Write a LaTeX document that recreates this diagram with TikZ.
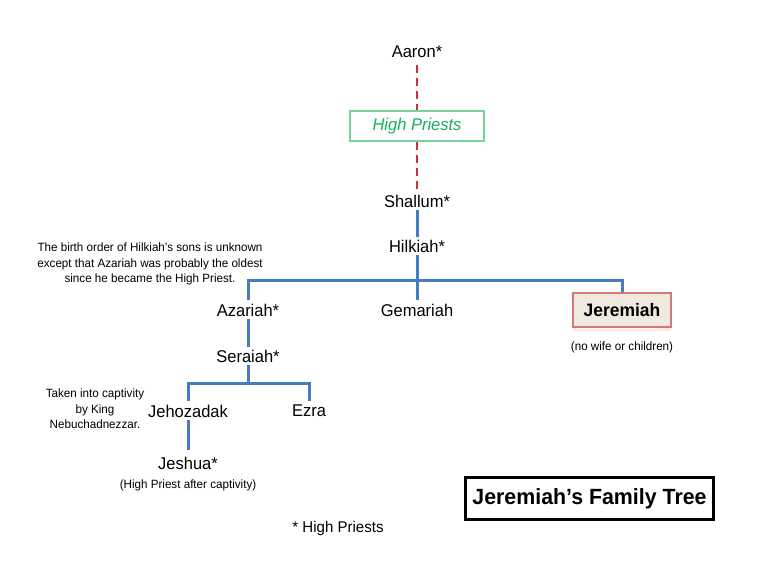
\documentclass[tikz,border=0pt]{standalone}
\usepackage{fontspec}
\setmainfont{Liberation Sans}[FakeStretch=0.97]
\usetikzlibrary{shadows}
\definecolor{lineblue}{RGB}{70,125,190}
\definecolor{dashred}{RGB}{200,50,50}
\definecolor{hpgreen}{RGB}{25,175,90}
\definecolor{hpborder}{RGB}{120,210,160}
\definecolor{jerfill}{RGB}{238,234,224}
\definecolor{jerborder}{RGB}{210,120,120}
\tikzset{
  person/.style={inner sep=1pt, font=\fontsize{17}{20}\selectfont, text=black},
  note/.style={inner sep=0pt, align=center, font=\fontsize{12}{15.5}\selectfont, text=black},
  tree/.style={draw=lineblue, line width=3pt},
  reddash/.style={draw=dashred, line width=2.2pt, dash pattern=on 8pt off 5pt},
}
\begin{document}
\begin{tikzpicture}[x=1pt,y=-1pt]
\useasboundingbox[fill=white] (0,0) rectangle (762,570);
% nodes
\node[person] (aaron) at (417,52) {Aaron*};
\node[draw=hpborder, line width=1.2pt, minimum width=134pt, minimum height=30pt, text=hpgreen,
      font=\fontsize{17}{20}\selectfont\itshape] (hp) at (417,126) {High Priests};
\node[person] (shallum) at (417,201) {Shallum*};
\node[person] (hilkiah) at (417,246) {Hilkiah*};
\node[person] (azariah) at (248,310) {Azariah*};
\node[person] (gemariah) at (417,310) {Gemariah};
\node[draw=jerborder, line width=1.2pt, fill=jerfill, minimum width=98pt, minimum height=34pt,
      font=\fontsize{18}{21}\selectfont\bfseries,
      drop shadow={shadow xshift=0pt, shadow yshift=-4pt, fill=red!25, opacity=0.35}] (jeremiah) at (622,310) {Jeremiah};
\node[note] (nowife) at (622,347) {(no wife or children)};
\node[person] (seraiah) at (248,356) {Seraiah*};
\node[person] (jehozadak) at (188,411) {Jehozadak};
\node[person] (ezra) at (309,411) {Ezra};
\node[person] (jeshua) at (188,463) {Jeshua*};
\node[note] (afterc) at (188,485) {(High Priest after captivity)};
\node[note] (captnote) at (95,409) {Taken into captivity\\by King\\Nebuchadnezzar.};
\node[note] (birthnote) at (150,264) {The birth order of Hilkiah's sons is unknown\\except that Azariah was probably the oldest\\since he became the High Priest.};
\node[draw=black, line width=2.5pt, minimum width=248pt, minimum height=42pt,
      font=\fontsize{22}{26}\selectfont\bfseries] (title) at (589.5,498.5) {Jeremiah’s Family Tree};
\node[person, font=\fontsize{15.5}{18}\selectfont] (legend) at (338,528) {* High Priests};
% coordinates
\coordinate (hbar) at (417,280);
\coordinate (hl) at (248,280);
\coordinate (hr) at (622,280);
\coordinate (sbar) at (248,383);
\coordinate (sl) at (188,383);
\coordinate (sr) at (309,383);
% connectors
\draw[reddash] ([yshift=-6pt]aaron.south) -- (hp.north);
\draw[reddash] (hp.south) -- ([yshift=4pt]shallum.north);
\draw[tree] ([yshift=-2pt]shallum.south) -- ([yshift=2pt]hilkiah.north);
\draw[tree] ([yshift=-2pt]hilkiah.south) -- (hbar);
\draw[tree] ([yshift=3pt]azariah.north) -- (hl) -- (hr) -- (jeremiah.north);
\draw[tree] (hbar) -- ([yshift=3pt]gemariah.north);
\draw[tree] ([yshift=-2pt]azariah.south) -- ([yshift=2pt]seraiah.north);
\draw[tree] ([yshift=-2pt]seraiah.south) -- (sbar);
\draw[tree] ([yshift=3pt]jehozadak.north) -- (sl) -- (sr) -- ([yshift=3pt]ezra.north);
\draw[tree] ([yshift=-2pt]jehozadak.south) -- ([yshift=6pt]jeshua.north);
\end{tikzpicture}
\end{document}
